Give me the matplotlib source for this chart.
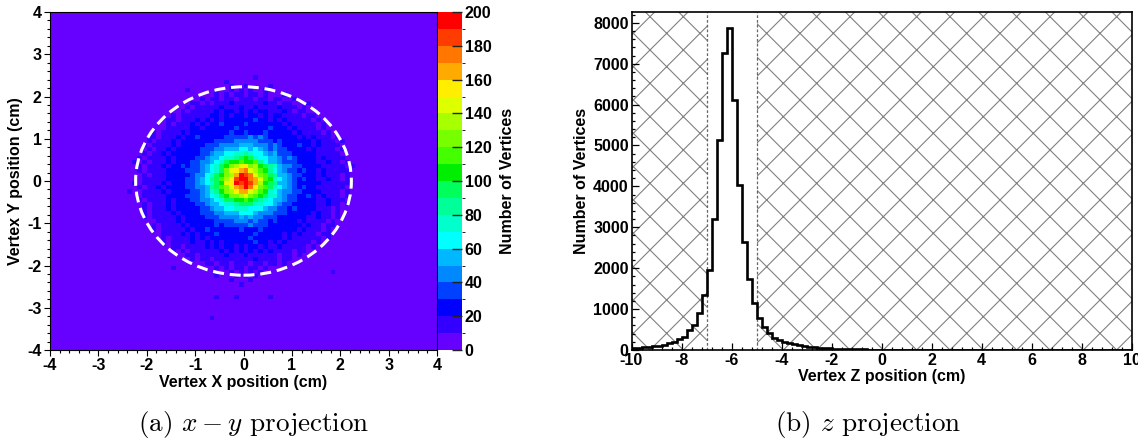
import numpy as np
import matplotlib
matplotlib.use("Agg")
import matplotlib.pyplot as plt
from matplotlib.colors import ListedColormap, BoundaryNorm
from matplotlib.patches import Circle
from matplotlib.ticker import MultipleLocator

plt.rcParams['font.family'] = ['Liberation Sans', 'DejaVu Sans']
plt.rcParams['font.weight'] = 'bold'
plt.rcParams['axes.labelweight'] = 'bold'
plt.rcParams['axes.unicode_minus'] = False
plt.rcParams['mathtext.fontset'] = 'cm'
plt.rcParams['hatch.linewidth'] = 0.8

# ========== (a) x-y projection ==========
# 0.1 cm bins, each cell stored as its colour level (count // 10): 0-9, a=10 ... j=19
LEVELS = "0123456789abcdefghij"
# rows from y=+2.45 down to y=-2.45, x from -2.45 to +2.45
# each row: (left half read from the centre outwards, right half from the centre outwards)
xy_rows = [
    ("0000000000000000000000000", "0010000000000000000000000"),
    ("0001000000000000000000000", "0000000000000000000000000"),
    ("0010000000000000000000000", "1000010000000000000000000"),
    ("1010000000010000000000000", "0100100000000000000000000"),
    ("1101010000000000000000000", "0110100010000000000000000"),
    ("1011011010000000000000000", "1101101100100000000000000"),
    ("1121110101100000000000000", "1111211011000100000000000"),
    ("2111211111010000000000000", "1121111211101000000000000"),
    ("2122121111101000000000000", "1212211121011000000000000"),
    ("2212122111111010000000000", "1221212211110110000000000"),
    ("2222121212111011000000000", "2232212121111101000000000"),
    ("2222322121211101000000000", "3222222212111110100000000"),
    ("2322222212211111000000000", "2222232221211110100000000"),
    ("2232222222212111101000000", "3222322222121111010000000"),
    ("3333222223221211101100000", "3434322222212121110100000"),
    ("4433332222222121110100000", "4443332322222212111010000"),
    ("5444433322222121111010000", "5544434322232212111100000"),
    ("6555443332222212110100000", "6565434332222121111010000"),
    ("7766554332222221211010000", "8766545333222221111100000"),
    ("9877655433222212111101000", "a976655434322221211110000"),
    ("baa9765443322212111010100", "aab8655433322221121101000"),
    ("edca976543323221211101000", "fcda987544332222111110100"),
    ("gfec976543332222111101000", "hedba86543323221211111000"),
    ("jgdca97644322222111010000", "ihecb98554332221211101000"),
    ("jifdb98654332222111110000", "jhgeba7654323221121101000"),
    ("ijfea97654332221211110100", "jigda98554322222111111000"),
    ("hgecb98544332222121101000", "jhfcb97654323221111110000"),
    ("gfdca87543322221211110010", "gedba76544332222111101000"),
    ("dcca976543332222111110000", "ecba977543322321211101000"),
    ("aa99765443322212111101000", "ba98765543322221121110000"),
    ("9877655433222212111010000", "9977665433222221121101000"),
    ("7766554332222212111010000", "7666544332322221110100000"),
    ("6555443332222121111010000", "6654443332222212110100000"),
    ("5444433322221211111010000", "4544333222222112110100000"),
    ("4433332222221211110000000", "4343323222212111101000000"),
    ("3333232222212111101000000", "3433322222221211011000000"),
    ("3222222322121111101000000", "2223222222212111010000000"),
    ("2222232221212111100000000", "2232222212121110110000000"),
    ("2222222121211110100000000", "2322222212111111010000000"),
    ("2222121211211110100000000", "2232212121111101000000000"),
    ("2122121211110110000000000", "1221211211111010000000000"),
    ("2121211111101010000000000", "1212121111011000000000000"),
    ("1112111110110000000000000", "2111111011010000000000000"),
    ("1111110110100000000000000", "1121111011000000000000000"),
    ("1101101100000000000000000", "1011011010000000000000000"),
    ("1101010000000010000000000", "0110100000000000000000000"),
    ("1010000000000000000000000", "0101000000000000001000000"),
    ("0100010000000000000000000", "1010000000000000000000000"),
    ("0010000000000000000000000", "0100000000000000000000000"),
    ("1000000000000000000000000", "0000000000000000000000000"),
]
# isolated single hits (level 1) outside the listed block
xy_outer_hits = [(-0.55, -2.75), (-0.15, -2.75), (0.55, -2.75), (-0.65, -3.25)]

palette = ['#6600ff', '#3300ff', '#0000ff', '#0040ff', '#0088ff',
           '#00b8ff', '#00ffff', '#00ffcc', '#00ff99', '#00ff5a',
           '#00ee00', '#44ff00', '#77ff00', '#a8ff00', '#ddff00',
           '#ffee00', '#ffaa00', '#ff7700', '#ff3c00', '#ff0000']
cbar_ticks = list(range(0, 201, 20))

# ========== (b) z projection ==========
z_counts = [45, 55, 65, 75, 88, 105, 130, 165, 205, 260,
            330, 490, 610, 900, 1335, 1960, 3200, 5140, 7270, 7870,
            6110, 4040, 2630, 1730, 1150, 790, 570, 410, 300, 240,
            200, 165, 140, 115, 95, 80, 68, 57, 48, 41,
            35, 30, 26, 22, 19, 16, 14, 12, 11, 10,
            9, 9, 8, 8, 8, 7, 7, 7, 6, 6,
            6, 6, 5, 5, 5, 5, 5, 4, 4, 4,
            4, 4, 4, 3, 3, 3, 3, 3, 3, 3,
            3, 3, 2, 2, 2, 2, 2, 2, 2, 2,
            2, 2, 2, 2, 2, 2, 1, 1, 1, 1]
z_cut = (-7.0, -5.0)


W, H = 1138, 440
fig = plt.figure(figsize=(W / 100, H / 100), dpi=100)


def fbox(x0, y0, x1, y1):
    return [x0 / W, 1 - y1 / H, (x1 - x0) / W, (y1 - y0) / H]


ax1 = fig.add_axes(fbox(50, 12, 437, 350))
cax = fig.add_axes(fbox(438, 12, 462, 350))
ax2 = fig.add_axes(fbox(631.5, 12, 1131.5, 350))

# ---- left panel
edges = np.linspace(-4, 4, 81)
counts = np.zeros((80, 80))
for r, (lh, rh) in enumerate(xy_rows):
    row = lh[::-1] + rh
    counts[64 - r, 15:65] = [LEVELS.index(c) * 10 + 5 for c in row]
for x, y in xy_outer_hits:
    counts[int(round((y + 4) / 0.1 - 0.5)), int(round((x + 4) / 0.1 - 0.5))] = 15

cmap = ListedColormap(palette)
norm = BoundaryNorm(np.linspace(0, 200, 21), cmap.N)
mesh = ax1.pcolormesh(edges, edges, counts, cmap=cmap, norm=norm)
ax1.add_patch(Circle((0, 0), 2.23, fill=False, ec='white', lw=2.2,
                     ls=(0, (3.6, 1.9))))
ax1.set_xlim(-4, 4)
ax1.set_ylim(-4, 4)
ax1.xaxis.set_major_locator(MultipleLocator(1))
ax1.yaxis.set_major_locator(MultipleLocator(1))
ax1.xaxis.set_minor_locator(MultipleLocator(0.2))
ax1.yaxis.set_minor_locator(MultipleLocator(0.2))
ax1.tick_params(which='both', direction='out', labelsize=11.5, width=0.8)
ax1.tick_params(which='major', length=4.5, pad=1.5)
ax1.tick_params(which='minor', length=2.2)
for s in ax1.spines.values():
    s.set_linewidth(0.8)
ax1.set_xlabel("Vertex X position (cm)", fontsize=11.5, labelpad=1)
ax1.set_ylabel("Vertex Y position (cm)", fontsize=11.5, labelpad=3)

cb = fig.colorbar(mesh, cax=cax, ticks=cbar_ticks)
cb.outline.set_visible(False)
cax.tick_params(direction='in', length=7, width=1.0, labelsize=11.5, pad=2,
                color='#222222')
cb.set_label("Number of Vertices", fontsize=11.5, labelpad=6, fontweight='bold')

# ---- right panel
z_edges = np.linspace(-10, 10, 101)
ax2.axvspan(-10, z_cut[0], facecolor='none', edgecolor='#808080', hatch='x',
            lw=0, zorder=1)
ax2.axvspan(z_cut[1], 10, facecolor='none', edgecolor='#808080', hatch='x',
            lw=0, zorder=1)
for zc in z_cut:
    ax2.axvline(zc, color='#666666', lw=0.9, ls=(0, (2.2, 1.6)), zorder=2)
ax2.stairs(z_counts, z_edges, color='black', lw=1.9, zorder=3)
ax2.set_xlim(-10, 10)
ax2.set_ylim(0, max(z_counts) * 1.05)
ax2.xaxis.set_major_locator(MultipleLocator(2))
ax2.xaxis.set_minor_locator(MultipleLocator(0.4))
ax2.yaxis.set_major_locator(MultipleLocator(1000))
ax2.yaxis.set_minor_locator(MultipleLocator(200))
ax2.tick_params(which='both', direction='in', labelsize=11.5, width=0.9)
ax2.tick_params(which='major', length=5, pad=2)
ax2.tick_params(which='minor', length=2.5)
for s in ax2.spines.values():
    s.set_linewidth(1.2)
ax2.set_xlabel("Vertex Z position (cm)", fontsize=11.5, labelpad=1)
ax2.set_ylabel("Number of Vertices", fontsize=11.5, labelpad=3)

# ---- captions
fig.text(254 / W, 1 - 424 / H, r"(a) $x-y$ projection", ha='center', va='center',
         fontsize=19.5, fontfamily='cmr10', fontweight='normal')
fig.text(868 / W, 1 - 424 / H, r"(b) $z$ projection", ha='center', va='center',
         fontsize=19.5, fontfamily='cmr10', fontweight='normal')

fig.savefig("out.png", dpi=100)
